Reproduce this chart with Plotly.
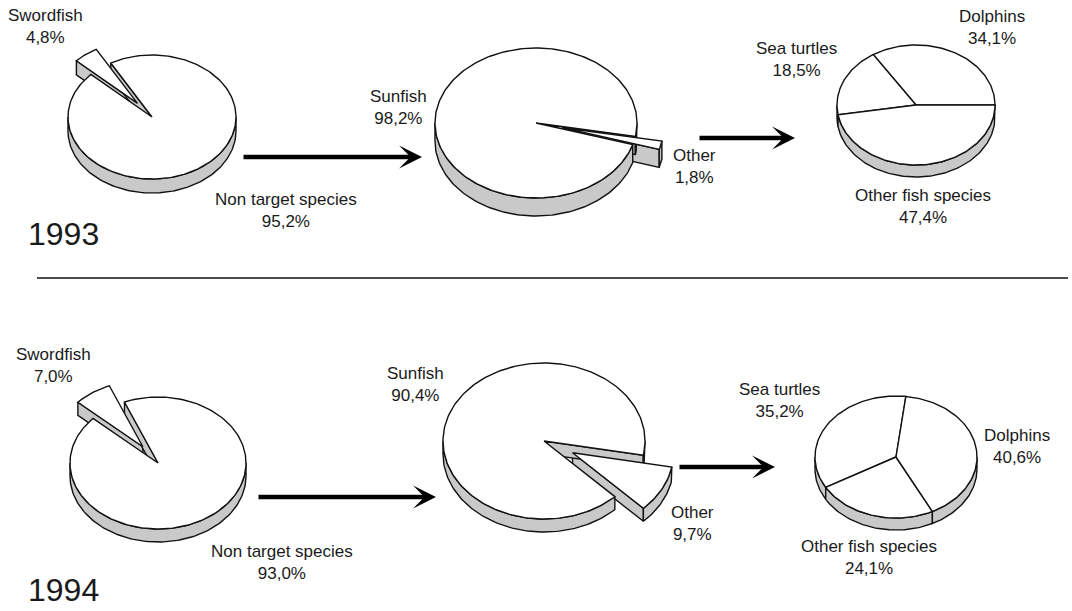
import numpy as np
import plotly.graph_objects as go

# ---------------- data ----------------
cats_93_catch = ["Swordfish", "Non target species"]
vals_93_catch = [4.8, 95.2]
cats_93_nontarget = ["Other", "Sunfish"]
vals_93_nontarget = [1.8, 98.2]
cats_93_other = ["Dolphins", "Sea turtles", "Other fish species"]
vals_93_other = [34.1, 18.5, 47.4]

cats_94_catch = ["Swordfish", "Non target species"]
vals_94_catch = [7.0, 93.0]
cats_94_nontarget = ["Other", "Sunfish"]
vals_94_nontarget = [9.7, 90.4]
cats_94_other = ["Sea turtles", "Other fish species", "Dolphins"]
vals_94_other = [35.2, 24.1, 40.6]

year_labels = ["1993", "1994"]

# ---------------- layout / style ----------------
W, H = 1072, 611
GRAY = "#c9c9c9"
LINE = "#111111"
LW = 1.4
FONT = "Liberation Sans, Arial, sans-serif"
TXT = "#1a1a1a"

pies = [
    dict(cats=cats_93_catch, vals=vals_93_catch, cx=152, cy=117, rx=84, ry=62, depth=14,
         start=119.4, explode=0, f=0.28,
         labels=[(45, 26), (286, 210)]),
    dict(cats=cats_93_nontarget, vals=vals_93_nontarget, cx=536, cy=123, rx=101, ry=75, depth=18,
         start=-16.74, explode=0, f=0.27,
         labels=[(694, 166), (398, 107)]),
    dict(cats=cats_93_other, vals=vals_93_other, cx=916, cy=105, rx=79, ry=60, depth=12,
         start=0, explode=None, f=0,
         labels=[(992, 27), (796, 59), (923, 206)]),
    dict(cats=cats_94_catch, vals=vals_94_catch, cx=158, cy=463, rx=88, ry=66, depth=13,
         start=112.4, explode=0, f=0.3,
         labels=[(53, 365), (282, 562)]),
    dict(cats=cats_94_nontarget, vals=vals_94_nontarget, cx=544, cy=441, rx=101, ry=78, depth=13,
         start=-45.46, explode=0, f=0.32,
         labels=[(692, 523), (415, 384)]),
    dict(cats=cats_94_other, vals=vals_94_other, cx=896, cy=457, rx=81, ry=61, depth=12,
         start=83, explode=None, f=0,
         labels=[(779, 400), (869, 557), (1017, 446)]),
]

arrows = [((242, 157), (422, 157)), ((698, 138), (795, 138)),
          ((257, 497), (436, 497)), ((678, 467), (775, 467))]
year_pos = [(63, 234), (63, 590)]

fig = go.Figure()


def P(g, th, dz=0.0, off=(0.0, 0.0)):
    t = np.radians(th)
    return (g["cx"] + off[0] + g["rx"] * np.cos(t),
            g["cy"] + off[1] - g["ry"] * np.sin(t) + dz)


def poly(xs, ys, fill):
    xs = list(xs) + [xs[0]]
    ys = list(ys) + [ys[0]]
    fig.add_trace(go.Scatter(x=xs, y=ys, mode="lines", fill="toself", fillcolor=fill,
                             line=dict(color=LINE, width=LW), hoverinfo="skip",
                             showlegend=False))


def arc_pts(g, a0, a1, dz, off):
    n = max(3, int(abs(a1 - a0) / 1.5) + 2)
    th = np.linspace(a0, a1, n)
    return P(g, th, dz, off)


def draw_sides(g, a0, a1, off, radial):
    d = g["depth"]
    ax0, ay0 = g["cx"] + off[0], g["cy"] + off[1]
    if radial:
        for ang, vis in ((a0, np.cos(np.radians(a0)) > 0), (a1, np.cos(np.radians(a1)) < 0)):
            if vis:
                px, py = P(g, ang, 0, off)
                poly([ax0, px, px, ax0], [ay0, py, py + d, ay0 + d], GRAY)
    for k in range(-1, 3):
        lo = max(a0, 180 + 360 * k)
        hi = min(a1, 360 + 360 * k)
        if hi > lo:
            tx, ty = arc_pts(g, lo, hi, 0, off)
            bx, by = arc_pts(g, hi, lo, d, off)
            poly(np.r_[tx, bx], np.r_[ty, by], GRAY)


def draw_top(g, a0, a1, off):
    ax0, ay0 = g["cx"] + off[0], g["cy"] + off[1]
    tx, ty = arc_pts(g, a0, a1, 0, off)
    poly(np.r_[ax0, tx], np.r_[ay0, ty], "white")


def fmt(v):
    return ("%.1f" % v).replace(".", ",") + "%"


for g in pies:
    vals = np.array(g["vals"], dtype=float)
    frac = vals / vals.sum()
    cum = np.r_[0, np.cumsum(frac)] * 360 + g["start"]
    pieces = []
    for i in range(len(vals)):
        a0, a1 = cum[i], cum[i + 1]
        off = (0.0, 0.0)
        if g["explode"] == i:
            m = np.radians((a0 + a1) / 2)
            off = (g["f"] * g["rx"] * np.cos(m), -g["f"] * g["ry"] * np.sin(m))
        pieces.append((a0, a1, off, i == g["explode"]))
    if g["explode"] is not None:
        ex = pieces[g["explode"]]
        rest = [p for p in pieces if not p[3]]
        draw_sides(g, ex[0], ex[1], ex[2], True)
        for a0, a1, off, _ in rest:
            draw_sides(g, a0, a1, off, True)
        for a0, a1, off, _ in rest:
            draw_top(g, a0, a1, off)
        draw_top(g, ex[0], ex[1], ex[2])
    else:
        for a0, a1, off, _ in pieces:
            draw_sides(g, a0, a1, off, False)
        for a0, a1, off, _ in pieces:
            draw_top(g, a0, a1, off)
    for i, (lx, ly) in enumerate(g["labels"]):
        fig.add_annotation(x=lx, y=ly, text=g["cats"][i] + "<br>" + fmt(g["vals"][i]),
                           showarrow=False, xanchor="center", yanchor="middle",
                           font=dict(family=FONT, size=17, color=TXT))

for (x0, y0), (x1, y1) in arrows:
    fig.add_annotation(x=x1, y=y1, ax=x0, ay=y0, xref="x", yref="y", axref="x", ayref="y",
                       text="", showarrow=True, arrowhead=3, arrowsize=0.85,
                       arrowwidth=4.5, arrowcolor="#000000")

for txt, (x, y) in zip(year_labels, year_pos):
    fig.add_annotation(x=x, y=y, text=txt, showarrow=False, xanchor="center",
                       yanchor="middle", borderpad=0,
                       font=dict(family=FONT, size=32, color=TXT))

fig.add_shape(type="line", x0=37, x1=1068, y0=278, y1=278, xref="x", yref="y",
              line=dict(color="#111111", width=1.3))

fig.update_layout(
    width=W, height=H, margin=dict(l=0, r=0, t=0, b=0),
    paper_bgcolor="white", plot_bgcolor="white", showlegend=False,
    xaxis=dict(range=[0, W], visible=False, fixedrange=True),
    yaxis=dict(range=[H, 0], visible=False, fixedrange=True),
)

fig.write_html("out.html")
